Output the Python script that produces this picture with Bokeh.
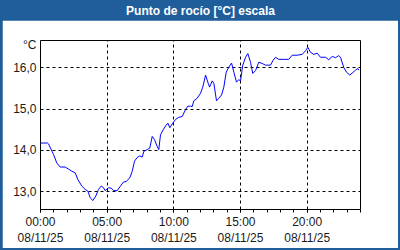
from bokeh.plotting import figure
from bokeh.layouts import column
from bokeh.models import Range1d, FixedTicker, CustomJSTickFormatter
from bokeh.core.properties import value
from bokeh.embed import file_html
from bokeh.resources import INLINE

title_text = "Punto de rocío [°C] escala"
unit_label = "°C"
date_label = "08/11/25"

hours = [0.0, 0.53, 0.6, 0.98, 1.22, 1.48, 1.85, 2.10, 2.35, 2.60, 2.80, 3.10, 3.35, 3.55,
         3.73, 3.92, 4.15, 4.35, 4.55, 4.73, 4.85, 5.10, 5.30, 5.50, 5.75, 5.95, 6.20, 6.45,
         6.70, 6.88, 7.05, 7.25, 7.45, 7.63, 7.75, 8.00, 8.20, 8.38, 8.55, 8.75, 8.87, 9.00,
         9.20, 9.38, 9.55, 9.70, 9.88, 10.13, 10.37, 10.63, 10.88, 11.05, 11.25, 11.38, 11.50,
         11.75, 12.00, 12.17, 12.38, 12.58, 12.68, 12.88, 13.00, 13.20, 13.37, 13.58, 13.75,
         13.93, 14.12, 14.33, 14.50, 14.70, 14.87, 15.00, 15.17, 15.38, 15.55, 15.75, 15.92,
         16.13, 16.37, 16.63, 16.88, 17.25, 17.45, 17.63, 17.87, 18.25, 18.62, 18.88, 19.25,
         19.63, 19.88, 20.05, 20.25, 20.50, 20.75, 21.00, 21.38, 21.62, 21.88, 22.13, 22.37,
         22.50, 22.75, 22.95, 23.20, 23.45, 23.63, 23.80, 23.87]
dewpoint = [14.18, 14.18, 14.16, 13.90, 13.70, 13.60, 13.60, 13.55, 13.50, 13.46, 13.30, 13.14,
            13.06, 13.02, 12.86, 12.79, 12.90, 13.06, 13.14, 13.10, 13.03, 13.10, 13.09, 13.03,
            13.03, 13.12, 13.23, 13.26, 13.34, 13.50, 13.74, 13.83, 13.87, 13.84, 13.98, 14.02,
            14.06, 14.34, 14.26, 14.10, 14.02, 14.38, 14.50, 14.59, 14.66, 14.55, 14.64, 14.75,
            14.80, 14.82, 14.99, 15.07, 15.07, 15.06, 15.20, 15.26, 15.38, 15.53, 15.82, 15.62,
            15.53, 15.68, 15.62, 15.20, 15.26, 15.34, 15.53, 15.89, 16.01, 16.11, 15.89, 15.65,
            15.71, 15.68, 16.06, 16.25, 16.34, 16.13, 15.86, 15.93, 16.13, 16.10, 16.06, 16.06,
            16.18, 16.25, 16.20, 16.20, 16.20, 16.30, 16.30, 16.32, 16.41, 16.49, 16.37, 16.32,
            16.35, 16.25, 16.25, 16.19, 16.27, 16.24, 16.29, 16.25, 16.00, 15.89, 15.82, 15.89,
            15.94, 15.98, 15.94]

x_major = [0, 5, 10, 15, 20]
x_minor = list(range(0, 25))
y_major = [13.0, 14.0, 15.0, 16.0]
y_min, y_max = 12.575, 16.655
unit_pos = 16.535

BAR = "#1f5e9a"
FONT = "Liberation Sans"
TXT = "#1a1a1a"

# title bar
t = figure(width=396, height=20, output_backend="svg", toolbar_location=None,
           x_range=Range1d(0, 1), y_range=Range1d(0, 1),
           min_border=0, background_fill_color=BAR, border_fill_color=BAR)
t.axis.visible = False
t.grid.visible = False
t.outline_line_color = None
t.text(x=[0.5], y=[0.5], text=[title_text], text_align="center", text_baseline="middle",
       text_color="white", text_font=value(FONT), text_font_size="12px",
       text_font_style="bold")

# main chart
p = figure(width=396, height=228, output_backend="svg", toolbar_location=None,
           x_range=Range1d(0, 24), y_range=Range1d(y_min, y_max),
           min_border_left=38, min_border_right=38, min_border_top=20, min_border_bottom=38,
           background_fill_color="white", border_fill_color="white")

p.outline_line_color = "black"
p.outline_line_width = 1
p.outline_line_alpha = 1

p.line(hours, dewpoint, line_color="#0000ff", line_width=1)

xa = p.xaxis[0]
xa.ticker = FixedTicker(ticks=x_major, minor_ticks=x_minor)
xa.formatter = CustomJSTickFormatter(args=dict(d=date_label), code="""
const h = Math.round(tick);
return (h < 10 ? '0' : '') + h + ':00\\n' + d;
""")
xa.major_tick_in = 0
xa.major_tick_out = 3
xa.minor_tick_in = 0
xa.minor_tick_out = 3
xa.axis_line_color = None
xa.major_tick_line_color = "black"
xa.minor_tick_line_color = "black"
xa.major_label_text_font = FONT
xa.major_label_text_font_size = "12px"
xa.major_label_text_color = TXT
xa.major_label_text_line_height = 1.18
xa.major_label_standoff = 2

ya = p.yaxis[0]
ya.ticker = FixedTicker(ticks=y_major + [unit_pos], minor_ticks=[])
ya.formatter = CustomJSTickFormatter(args=dict(u=unit_label), code="""
if (tick > 16.3) return u;
return tick.toFixed(1).replace('.', ',');
""")
ya.major_tick_in = 0
ya.major_tick_out = 0
ya.minor_tick_out = 0
ya.axis_line_color = None
ya.major_label_text_font = FONT
ya.major_label_text_font_size = "12px"
ya.major_label_text_color = TXT
ya.major_label_standoff = 4

p.xgrid.ticker = FixedTicker(ticks=x_major)
p.ygrid.ticker = FixedTicker(ticks=y_major)
for g in (p.xgrid, p.ygrid):
    g.grid_line_color = "black"
    g.grid_line_dash = "3 3"
    g.grid_line_width = 1

layout = column(t, p, spacing=0,
                styles={"background-color": BAR, "padding": "0px 2px 2px 2px"})

open("out.html", "w").write(file_html(layout, INLINE))
